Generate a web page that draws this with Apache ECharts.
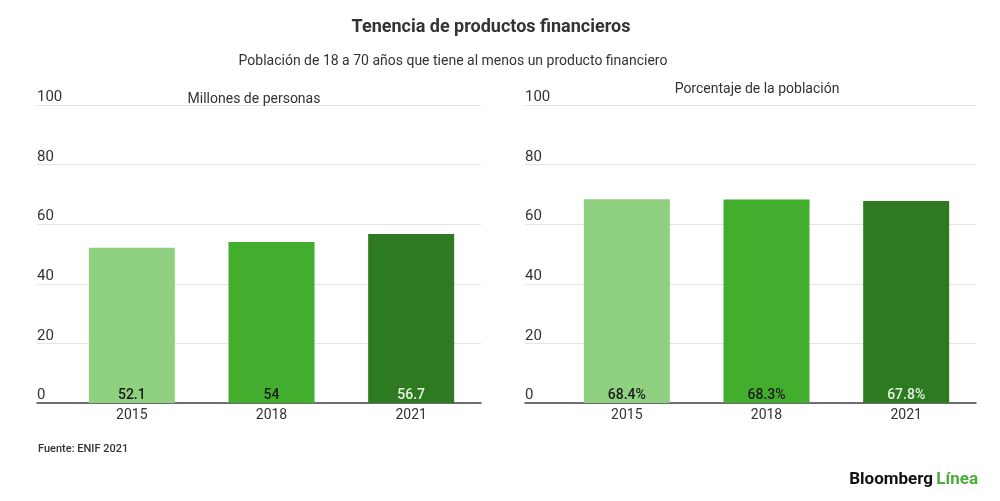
<!DOCTYPE html>
<html>
<head>
<meta charset="utf-8">
<script src="https://cdn.jsdelivr.net/npm/echarts@6/dist/echarts.min.js"></script>
<style>html,body{margin:0;padding:0;background:#fff}#c{width:1000px;height:501px}</style>
</head>
<body>
<div id="c"></div>
<script>
const categories = ['2015', '2018', '2021'];
const millones = [52.1, 54, 56.7];
const porcentaje = [68.4, 68.3, 67.8];
const yTicks = [0, 20, 40, 60, 80, 100];
const barColors = ['#8fd081', '#43ae2d', '#2e7a20'];
const labelColors = ['#1a1a1a', '#1a1a1a', '#e6f2e2'];

const F = 'Roboto, "Noto Sans", sans-serif';
const chart = echarts.init(document.getElementById('c'));

function bgAxes(gi) {
  return {
    x: {type: 'value', gridIndex: gi, min: 0, max: 1, show: true,
        axisLine: {show: true, onZero: false, lineStyle: {color: '#444', width: 1.5}},
        axisTick: {show: false}, axisLabel: {show: false}, splitLine: {show: false}},
    y: {type: 'value', gridIndex: gi, min: yTicks[0], max: yTicks[yTicks.length - 1], interval: 20,
        axisLine: {show: false}, axisTick: {show: false},
        splitLine: {lineStyle: {color: '#e4e4e4', width: 1}},
        axisLabel: {inside: true, margin: 0, verticalAlign: 'bottom', padding: [0, 0, 0, 0],
                    fontFamily: F, fontSize: 15, color: '#333'}}
  };
}
function barAxes(gi) {
  return {
    x: {type: 'category', gridIndex: gi, data: categories,
        axisLine: {show: false}, axisTick: {show: false},
        axisLabel: {margin: 5, fontFamily: F, fontSize: 14, color: '#333'}},
    y: {type: 'value', gridIndex: gi, min: 0, max: 100, show: false, splitLine: {show: false}}
  };
}
const a0 = bgAxes(0), a1 = barAxes(1), a2 = bgAxes(2), a3 = barAxes(3);

function barSeries(idx, vals, suffix) {
  return {
    type: 'bar', xAxisIndex: idx, yAxisIndex: idx, barWidth: 86,
    data: vals.map((v, i) => ({value: v, itemStyle: {color: barColors[i]},
      label: {color: labelColors[i]}})),
    label: {show: true, position: 'insideBottom', distance: 1, fontFamily: F,
            fontSize: 14, fontWeight: 500, formatter: p => p.value + suffix},
    silent: true
  };
}

chart.setOption({
  animation: false,
  title: [
    {text: 'Tenencia de productos financieros', left: 486, top: 13, textAlign: 'center',
     textStyle: {fontFamily: F, fontSize: 18, fontWeight: 'bold', color: '#333'}},
    {text: 'Población de 18 a 70 años que tiene al menos un producto financiero', left: 448, top: 49,
     textAlign: 'center', textStyle: {fontFamily: F, fontSize: 14, fontWeight: 'normal', color: '#333'}},
    {text: 'Millones de personas', left: 249, top: 87, textAlign: 'center',
     textStyle: {fontFamily: F, fontSize: 14, fontWeight: 'normal', color: '#333'}},
    {text: 'Porcentaje de la población', left: 752, top: 77, textAlign: 'center',
     textStyle: {fontFamily: F, fontSize: 14, fontWeight: 'normal', color: '#333'}},
    {text: 'Fuente: ENIF 2021', left: 33, top: 439,
     textStyle: {fontFamily: F, fontSize: 11, fontWeight: 500, color: '#333'}}
  ],
  graphic: [{
    type: 'text', right: 22, top: 471,
    style: {text: '{a|Bloomberg} {b|Línea}', rich: {
      a: {fontFamily: F, fontSize: 17, fontWeight: 'bold', fill: '#111'},
      b: {fontFamily: F, fontSize: 17, fontWeight: 'bold', fill: '#4cae3a'}}}
  }],
  grid: [
    {left: 37, right: 519, top: 105, bottom: 98},
    {left: 62, right: 519, top: 105, bottom: 98},
    {left: 525, right: 24, top: 105, bottom: 98},
    {left: 557, right: 24, top: 105, bottom: 98}
  ],
  xAxis: [a0.x, a1.x, a2.x, a3.x],
  yAxis: [a0.y, a1.y, a2.y, a3.y],
  series: [barSeries(1, millones, ''), barSeries(3, porcentaje, '%')]
});
</script>
</body>
</html>
